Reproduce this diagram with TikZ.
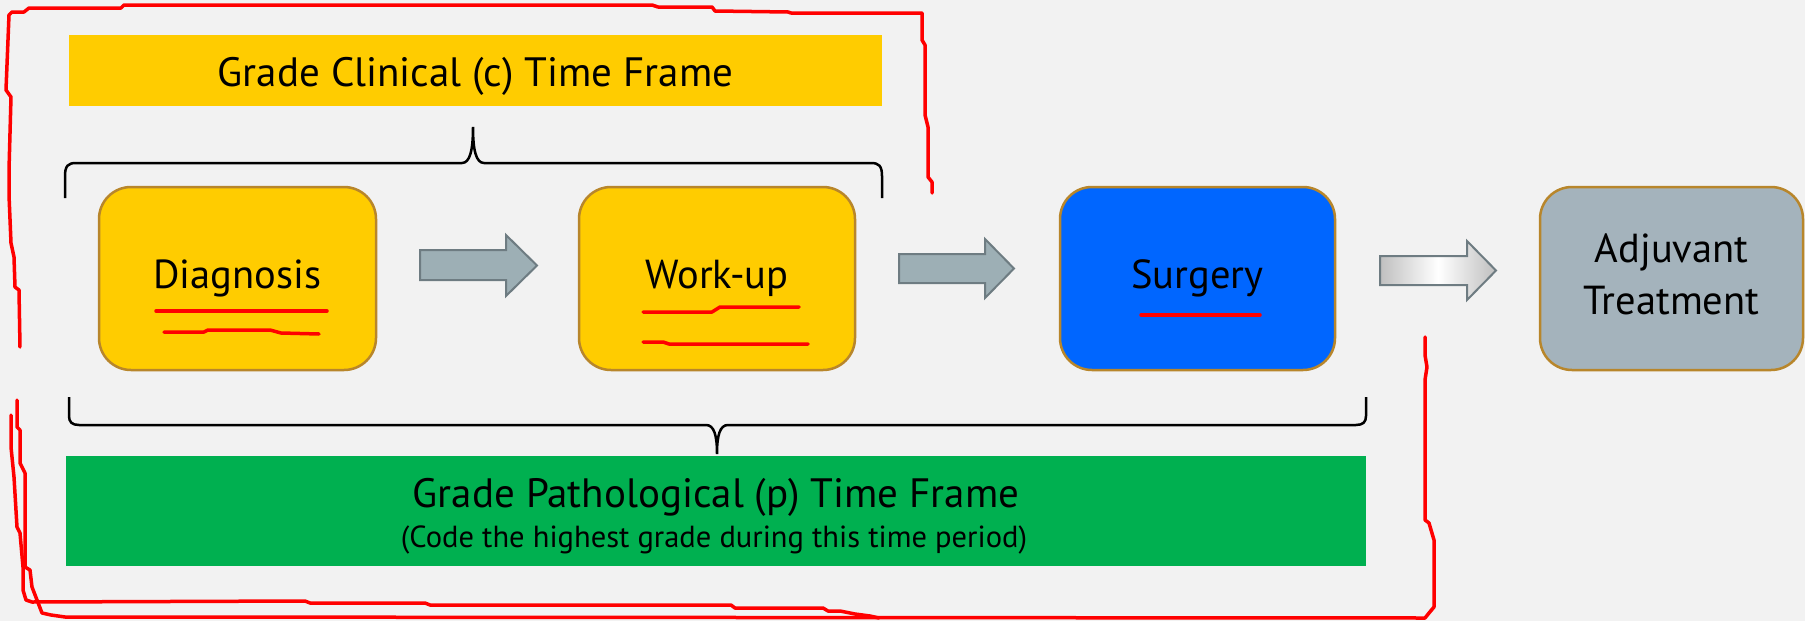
\documentclass[tikz,border=0pt]{standalone}
\usepackage{fontspec}
\setmainfont{PT Sans}
\definecolor{bg}{HTML}{F2F2F2}
\definecolor{ylw}{HTML}{FFCC00}
\definecolor{brd}{HTML}{B8862B}
\definecolor{blu}{HTML}{0066FF}
\definecolor{gry}{HTML}{A4B3BC}
\definecolor{arf}{HTML}{9DAFB5}
\definecolor{ard}{HTML}{6E7C82}
\definecolor{grn}{HTML}{00B050}
\definecolor{scrib}{HTML}{FF0000}
\begin{document}
\begin{tikzpicture}[x=1pt,y=-1pt,
  stepbox/.style={draw=brd, line width=2.5pt, rounded corners=32pt, minimum width=#1,
    minimum height=183pt, inner sep=0pt, align=center, font=\fontsize{40.5}{52}\selectfont},
  stepbox/.default=276pt,
  bar/.style={inner sep=0pt, draw=none},
  bartext/.style={font=\fontsize{41}{48}\selectfont, anchor=base, inner sep=0pt},
  subtext/.style={font=\fontsize{30.5}{36}\selectfont, anchor=base, inner sep=0pt},
  blockarrow/.style={draw=ard, line width=2pt, line join=miter},
  bracepath/.style={draw=black, line width=2.5pt},
  scribble/.style={draw=scrib, line width=3.5pt, line join=round, line cap=round}]
\useasboundingbox (0,0) rectangle (1805,621);
\fill[bg] (0,0) rectangle (1805,621);

% top yellow bar
\node[bar, fill=ylw, minimum width=813pt, minimum height=71pt] (cbar) at (475.5,70.5) {};
\node[bartext] (ctext) at (475.5,86) {Grade Clinical (c) Time Frame};

% green bar
\node[bar, fill=grn, minimum width=1300pt, minimum height=110pt] (pbar) at (715.5,511) {};
\node[bartext] (ptext) at (716,507) {Grade Pathological (p) Time Frame};
\node[subtext] (psub) at (714,547) {(Code the highest grade during this time period)};

% boxes
\node[stepbox=277pt, fill=ylw] (diag) at (237.5,278.5) {Diagnosis};
\node[stepbox=276pt, fill=ylw] (work) at (717,278.5) {Work-up};
\node[stepbox=275pt, fill=blu] (surg) at (1197.5,278.5) {\raisebox{-4pt}{Surgery}};
\node[stepbox=263pt, fill=gry] (adj) at (1671.5,278.5) {\raisebox{5pt}{\begin{tabular}{@{}c@{}}Adjuvant\\Treatment\end{tabular}}};

% block arrows
\path[blockarrow, fill=arf] (420,250) -- (506,250) -- (506,235) -- (537,265.5) -- (506,296) -- (506,280) -- (420,280) -- cycle;
\path[blockarrow, fill=arf] (899,254) -- (985,254) -- (985,239) -- (1014,268.5) -- (985,298) -- (985,283) -- (899,283) -- cycle;
\path[blockarrow, left color=gray!50, right color=gray!50, middle color=white] (1380,256) -- (1467,256) -- (1467,241) -- (1496,270.5) -- (1467,300) -- (1467,285) -- (1380,285) -- cycle;

% top brace
\path[bracepath] (65,198) -- (65,176) .. controls (65,166) and (68,163) .. (76,163) -- (462,163)
  .. controls (470,163) and (473,150) .. (473,127) .. controls (473,150) and (476,163) .. (484,163)
  -- (871,163) .. controls (879,163) and (882,166) .. (882,176) -- (882,198);
% bottom brace
\path[bracepath] (69,397) -- (69,416) .. controls (69,422) and (72,425) .. (79,425) -- (706,425)
  .. controls (714,425) and (717,435) .. (717,454) .. controls (717,435) and (720,425) .. (728,425)
  -- (1356,425) .. controls (1363,425) and (1366,422) .. (1366,416) -- (1366,397);

% red hand-drawn outline (clinical)
\path[scribble] (20,347) -- (19,290) -- (15,287) -- (14,257) -- (11,243) -- (9,195) -- (9,170) -- (11,97)
  -- (6,90) -- (8,40) -- (9,15) -- (12,12) -- (24,12) -- (29,8) -- (121,8) -- (124,5) -- (652,5)
  -- (658,7) -- (712,7) -- (715,11) -- (788,12) -- (791,13) -- (922,13) -- (922,40) -- (925,45)
  -- (925,115) -- (928,127) -- (928,177) -- (932,182) -- (932,193);
% red hand-drawn outline (pathological)
\path[scribble] (1425,337) -- (1425,355) -- (1427,367) -- (1425,380) -- (1425,520) -- (1429,523)
  -- (1434,540) -- (1434,607) -- (1429,613) -- (1425,618) -- (65,617) -- (51,615) -- (42,613)
  -- (37,600) -- (32,587) -- (30,570) -- (25,567) -- (25,473) -- (20,463) -- (20,430) -- (17,427) -- (17,400);
\path[scribble] (11,415) -- (11,447) -- (14,477) -- (17,527) -- (20,533) -- (23,567) -- (23,590)
  -- (26,600) -- (32,602) -- (305,601) -- (310,603) -- (425,603) -- (430,605) -- (731,605)
  -- (735,608) -- (823,608) -- (828,611) -- (840,611) -- (855,614) -- (870,616) -- (879,618);
% red underlines
\path[scribble] (156,311) -- (327,311);
\path[scribble] (164,332) -- (204,332) -- (208,330) -- (270,330) -- (281,333) -- (319,334);
\path[scribble] (643,312) -- (712,312) -- (720,307) -- (799,307);
\path[scribble] (643,342) -- (663,342) -- (669,344) -- (808,344);
\path[scribble] (1141,315) -- (1260,315);
\end{tikzpicture}
\end{document}
